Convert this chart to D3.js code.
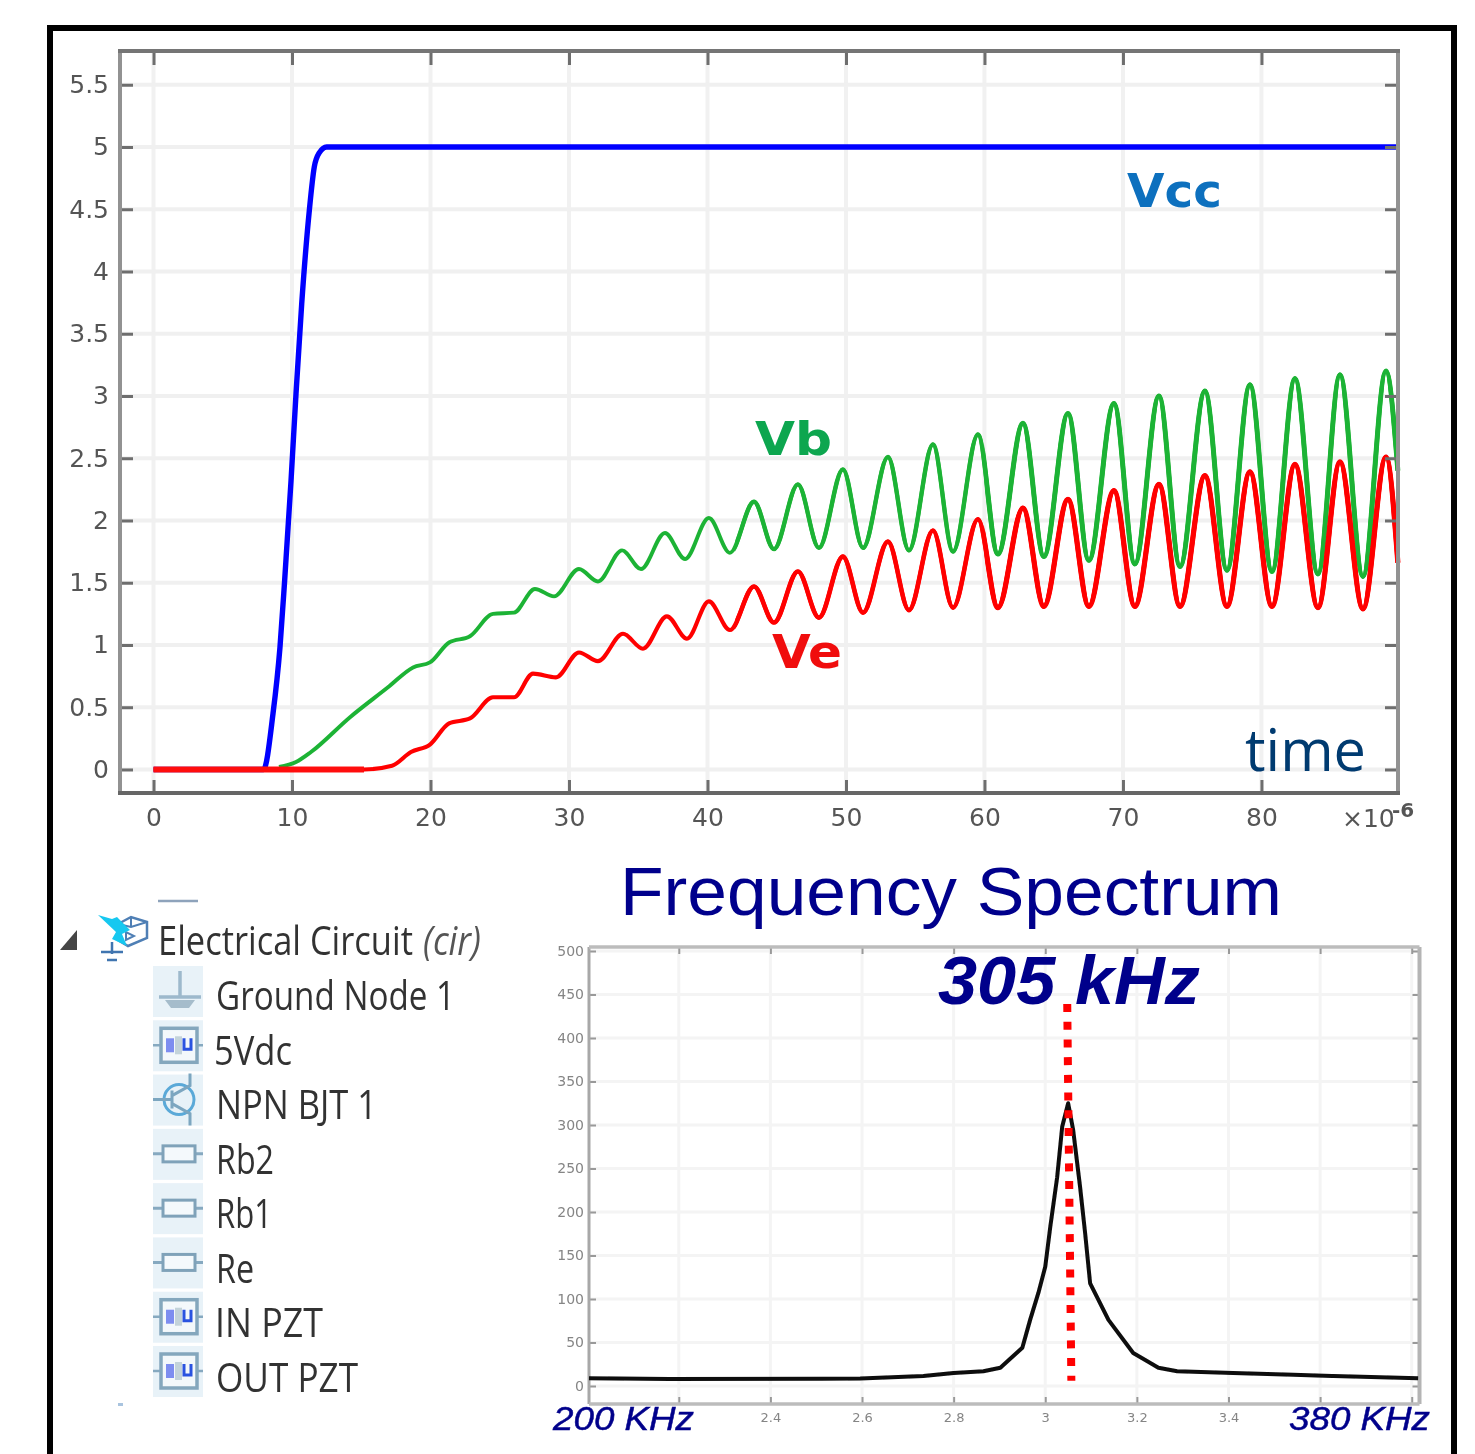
<!DOCTYPE html>
<html>
<head>
<meta charset="utf-8">
<script src="https://cdn.jsdelivr.net/npm/d3@7/dist/d3.min.js"></script>
<style>
html,body{margin:0;padding:0;background:#fff;overflow:hidden}
svg{display:block}
text{font-family:"Liberation Sans",sans-serif}
</style>
</head>
<body>
<svg id="chart" width="1475" height="1454"></svg>
<script>
// ---------- time-domain data (t in units of 1e-6, volts) ----------
const timeTicks = [0,10,20,30,40,50,60,70,80];
const voltTicks = [0,0.5,1,1.5,2,2.5,3,3.5,4,4.5,5,5.5];
const vccT = [0,7.94,8.63,9.13,9.47,9.93,10.29,10.70,11.25,11.61,11.95,12.5,89.86];
const vccV = [0,0,0.45,0.98,1.52,2.32,3.02,3.74,4.49,4.84,4.95,5,5];
const vbT = [9.06,10.29,11.37,14.19,16.93,18.74,19.96,21.34,22.85,24.51,26.03,27.54,28.92,30.72,32.09,33.83,35.2,36.93,38.38,40.1,41.62,43.36,44.80,46.53,48.05,49.78,51.23,53.03,54.55,56.28,57.73,59.53,60.97,62.78,64.29,66.03,67.54,69.35,70.86,72.6,74.12,75.92,77.51,79.17,80.76,82.42,84.08,85.67,87.33,88.99,89.85];
const vbV = [0.02,0.06,0.14,0.42,0.66,0.82,0.86,1.02,1.07,1.25,1.26,1.45,1.39,1.61,1.51,1.76,1.61,1.90,1.69,2.02,1.74,2.15,1.77,2.29,1.78,2.41,1.78,2.51,1.76,2.61,1.75,2.69,1.73,2.78,1.71,2.86,1.68,2.94,1.65,3.00,1.63,3.04,1.60,3.09,1.59,3.14,1.57,3.17,1.55,3.20,2.4];
const veT = [0,15.2,17.22,18.59,19.96,21.34,22.85,24.51,26.03,27.4,29.06,30.72,32.09,33.9,35.34,37.07,38.52,40.1,41.62,43.36,44.80,46.53,48.05,49.78,51.23,53.03,54.55,56.28,57.73,59.53,60.97,62.78,64.29,66.03,67.54,69.35,70.86,72.6,74.12,75.92,77.51,79.17,80.76,82.42,84.08,85.67,87.33,88.99,89.85];
const veV = [0,0,0.03,0.14,0.2,0.37,0.41,0.58,0.58,0.77,0.74,0.94,0.87,1.09,0.97,1.23,1.05,1.35,1.12,1.47,1.18,1.59,1.22,1.71,1.26,1.83,1.28,1.92,1.30,2.01,1.30,2.10,1.31,2.17,1.31,2.24,1.31,2.29,1.31,2.36,1.31,2.39,1.31,2.45,1.30,2.47,1.29,2.51,1.66];

// ---------- spectrum data (frequency in 1e5 Hz, amplitude) ----------
const freqTicks = [2.2,2.4,2.6,2.8,3,3.2,3.4,3.6,3.8];
const freqLabelled = [2.4,2.6,2.8,3,3.2,3.4];
const ampTicks = [0,50,100,150,200,250,300,350,400,450,500];
const specF = [2.004,2.18,2.596,2.734,2.80,2.865,2.902,2.95,2.967,2.985,3.0,3.011,3.026,3.037,3.05,3.061,3.076,3.087,3.098,3.138,3.192,3.247,3.288,3.41,3.541,3.629,3.814];
const specA = [9,8,8.5,11.5,15,17,21,44,76,107,137,183,240,298,325,294,229,176,118,76,38,21,17,15,13,11.5,9];
const markerF = [3.048,3.057];
const markerA = [439,6];

// ---------- tree list ----------
const treeNames = ["Ground Node 1","5Vdc","NPN BJT 1","Rb2","Rb1","Re","IN PZT","OUT PZT"];
const treeKinds = ["ground","source","npn","res","res","res","source","source"];

// ---------- layout ----------
const svg = d3.select("#chart");
const defs = svg.append("defs");
defs.append("filter").attr("id","soft").attr("filterUnits","userSpaceOnUse")
  .attr("x",0).attr("y",0).attr("width",1475).attr("height",1454)
  .append("feGaussianBlur").attr("stdDeviation",0.7);

svg.append("rect").attr("x",50).attr("y",28).attr("width",1404).attr("height",1500)
  .attr("fill","#fff").attr("stroke","#000").attr("stroke-width",6);

const root = svg.append("g").attr("filter","url(#soft)");

function styleAxis(sel, color, w){
  sel.select(".domain").remove();
  sel.selectAll(".tick line").attr("stroke",color).attr("stroke-width",w);
}

// ---------- upper chart ----------
const L={x0:120,x1:1398,y0:51,y1:793};
const x = d3.scaleLinear().domain([-2.42,89.86]).range([L.x0,L.x1]);
const y = d3.scaleLinear().domain([-0.189,5.771]).range([L.y1,L.y0]);
const upper = root.append("g");

upper.append("g").selectAll("line").data(timeTicks).join("line")
  .attr("x1",d=>x(d)).attr("x2",d=>x(d)).attr("y1",L.y0).attr("y2",L.y1)
  .attr("stroke","#f1f1f1").attr("stroke-width",4);
upper.append("g").selectAll("line").data(voltTicks).join("line")
  .attr("y1",d=>y(d)).attr("y2",d=>y(d)).attr("x1",L.x0).attr("x2",L.x1)
  .attr("stroke","#f0f0f0").attr("stroke-width",4);

// the traces get heavier towards the right: the same path is redrawn, clipped
const heavyBands=[{id:"bandA",from:42,width:0.5},{id:"bandB",from:60,width:1.1}];
heavyBands.forEach(b=>{
  defs.append("clipPath").attr("id",b.id).append("rect")
    .attr("x",x(b.from)).attr("y",L.y0).attr("width",L.x1+4-x(b.from)).attr("height",L.y1-L.y0);
});
function curve(T,V,color,w,heavy){
  const d = d3.line().x((d,i)=>x(T[i])).y((d,i)=>y(V[i])).curve(d3.curveMonotoneX)(T);
  upper.append("path").attr("d",d).attr("fill","none").attr("stroke",color)
    .attr("stroke-width",w).attr("stroke-linejoin","round");
  if(heavy) heavyBands.forEach(b=>{
    upper.append("path").attr("d",d).attr("fill","none").attr("stroke",color)
      .attr("stroke-width",w+b.width).attr("stroke-linejoin","round")
      .attr("clip-path",`url(#${b.id})`);
  });
}
curve(vccT,vccV,"#0000ff",5.4,false);
curve(vbT,vbV,"#1fb336",3.9,true);
curve(veT,veV,"#ff0000",4.1,true);
// thicker baseline portion of the Ve trace
upper.append("path").attr("d",d3.line().x(d=>x(d)).y(y(0))(veT.slice(0,2)))
  .attr("fill","none").attr("stroke","#ff1010").attr("stroke-width",6);

const upperFont={family:"'DejaVu Sans',sans-serif",size:25,color:"#555"};
function labelStyle(g,f){g.selectAll(".tick text").attr("font-family",f.family).style("font-family",f.family).attr("font-size",f.size).attr("fill",f.color);}

const axL=upper.append("g").attr("transform",`translate(${L.x0},0)`)
  .call(d3.axisLeft(y).tickValues(voltTicks).tickFormat(d=>String(d)).tickSize(-13).tickPadding(11));
styleAxis(axL,"#6e6e6e",3); labelStyle(axL,upperFont);
const axR=upper.append("g").attr("transform",`translate(${L.x1},0)`)
  .call(d3.axisRight(y).tickValues(voltTicks).tickFormat("").tickSize(-13));
styleAxis(axR,"#6e6e6e",3);
const axT=upper.append("g").attr("transform",`translate(0,${L.y0})`)
  .call(d3.axisTop(x).tickValues(timeTicks).tickFormat("").tickSize(-14));
styleAxis(axT,"#6e6e6e",3);
const axB=upper.append("g").attr("transform",`translate(0,${L.y1})`)
  .call(d3.axisBottom(x).tickValues(timeTicks).tickFormat(d=>String(d)).tickSize(-13).tickPadding(2));
styleAxis(axB,"#6e6e6e",3); labelStyle(axB,upperFont);
axB.selectAll(".tick text").attr("y",15).attr("dy","0.71em");

upper.append("path").attr("d",`M${L.x0},${L.y1}V${L.y0}`).attr("stroke","#929292").attr("stroke-width",4).attr("fill","none");
upper.append("path").attr("d",`M${L.x1},${L.y1}V${L.y0}`).attr("stroke","#929292").attr("stroke-width",4).attr("fill","none");
upper.append("path").attr("d",`M${L.x0-2},${L.y0}H${L.x1+2}`).attr("stroke","#757575").attr("stroke-width",4).attr("fill","none");
upper.append("path").attr("d",`M${L.x0-2},${L.y1}H${L.x1+2}`).attr("stroke","#666").attr("stroke-width",4).attr("fill","none");

upper.append("text").attr("x",1342).attr("y",827).attr("font-size",25).style("font-family",upperFont.family).attr("fill",upperFont.color).text("×10");
upper.append("text").attr("x",1392).attr("y",817).attr("font-size",20).attr("font-weight","bold").style("font-family",upperFont.family).attr("fill",upperFont.color).text("-6");

function label(t,xp,yp,w,size,color,opts={}){
  return root.append("text").attr("x",xp).attr("y",yp).attr("font-size",size).attr("fill",color)
    .attr("textLength",w).attr("lengthAdjust","spacingAndGlyphs")
    .style("font-family",opts.family||"'Liberation Sans',sans-serif")
    .attr("font-weight",opts.weight||"normal").attr("font-style",opts.style||"normal").text(t);
}
label("Vcc",1127,207,95,46,"#0a6fbe",{family:"'DejaVu Sans',sans-serif",weight:"bold"});
label("Vb",755,455,77,46,"#0aa650",{family:"'DejaVu Sans',sans-serif",weight:"bold"});
label("Ve",772,668,70,46,"#f01010",{family:"'DejaVu Sans',sans-serif",weight:"bold"});
label("time",1245,771,121,58,"#053a70",{family:"'Open Sans',sans-serif"});

// ---------- spectrum chart ----------
const S={x0:589,x1:1419.5,y0:947,y1:1404};
const fx = d3.scaleLinear().domain([2.004,3.817]).range([S.x0,S.x1]);
const fy = d3.scaleLinear().domain([-20.7,504.6]).range([S.y1,S.y0]);
const spec = root.append("g");

spec.append("g").selectAll("line").data(freqTicks).join("line")
  .attr("x1",d=>fx(d)).attr("x2",d=>fx(d)).attr("y1",S.y0).attr("y2",S.y1)
  .attr("stroke","#f4f4f4").attr("stroke-width",3);
spec.append("g").selectAll("line").data(ampTicks).join("line")
  .attr("y1",d=>fy(d)).attr("y2",d=>fy(d)).attr("x1",S.x0).attr("x2",S.x1)
  .attr("stroke","#f4f4f4").attr("stroke-width",3);

const specFont={family:"'DejaVu Sans',sans-serif",size:13,color:"#858585"};
const sL=spec.append("g").attr("transform",`translate(${S.x0},0)`)
  .call(d3.axisLeft(fy).tickValues(ampTicks).tickFormat(d=>String(d)).tickSize(-7).tickPadding(5));
styleAxis(sL,"#999",2); labelStyle(sL,{...specFont,size:14});
const sR=spec.append("g").attr("transform",`translate(${S.x1},0)`)
  .call(d3.axisRight(fy).tickValues(ampTicks).tickFormat("").tickSize(-7));
styleAxis(sR,"#999",2);
const sT=spec.append("g").attr("transform",`translate(0,${S.y0})`)
  .call(d3.axisTop(fx).tickValues(freqTicks).tickFormat("").tickSize(-7));
styleAxis(sT,"#999",2);
const sB=spec.append("g").attr("transform",`translate(0,${S.y1})`)
  .call(d3.axisBottom(fx).tickValues(freqTicks)
    .tickFormat(d=>freqLabelled.includes(d)?String(d):"").tickSize(-7));
styleAxis(sB,"#999",2); labelStyle(sB,specFont);
sB.selectAll(".tick text").attr("y",9).attr("dy","0.71em");

spec.append("path").attr("d",`M${S.x0},${S.y1}V${S.y0}`).attr("stroke","#a8a8a8").attr("stroke-width",3).attr("fill","none");
spec.append("path").attr("d",`M${S.x1},${S.y1}V${S.y0}`).attr("stroke","#b4b4b4").attr("stroke-width",4).attr("fill","none");
spec.append("path").attr("d",`M${S.x0},${S.y0}H${S.x1}`).attr("stroke","#bcbcbc").attr("stroke-width",3.5).attr("fill","none");
spec.append("path").attr("d",`M${S.x0},${S.y1}H${S.x1}`).attr("stroke","#bcbcbc").attr("stroke-width",3.5).attr("fill","none");

spec.append("path")
  .attr("d",d3.line().x((d,i)=>fx(specF[i])).y((d,i)=>fy(specA[i]))(specF))
  .attr("fill","none").attr("stroke","#0c0c0c").attr("stroke-width",4).attr("stroke-linejoin","round");

spec.append("path")
  .attr("d",d3.line().x((d,i)=>fx(markerF[i])).y((d,i)=>fy(markerA[i]))(markerF))
  .attr("fill","none").attr("stroke","#ff0000").attr("stroke-width",8).attr("stroke-dasharray","8 9.7");

label("Frequency Spectrum",620,915,662,68,"#04048c");
label("305 kHz",938,1004,262,68,"#00008b",{weight:"bold",style:"italic"});
label("200 KHz",553,1430,141,33,"#00008b",{style:"italic"}).attr("stroke","#00008b").attr("stroke-width",0.5);
label("380 KHz",1289,1430,141,33,"#00008b",{style:"italic"}).attr("stroke","#00008b").attr("stroke-width",0.5);

// ---------- model tree ----------
const tree = root.append("g");
const treeFont="'Open Sans',sans-serif";
const rowY = d3.scaleLinear().domain([0,7]).range([1008,1388]);
const textY = d3.scaleLinear().domain([0,7]).range([1010,1392]);
const treeTextX=[216,214,216,216,216,216,215,216];
const treeTextW=[239,78,161,58,56,38,108,142];

tree.append("path").attr("d","M158,901H198").attr("stroke","#8ea3bb").attr("stroke-width",2.5);
tree.append("path").attr("d","M77,930V950H60Z").attr("fill","#444");
tree.append("rect").attr("x",118).attr("y",1403).attr("width",5).attr("height",3).attr("fill","#a9c4df");

// physics-interface icon
tree.append("path").attr("d","M118,924L131,917L147,922V938L128,946L118,940Z").attr("fill","#fff").attr("stroke","#4f7fb5").attr("stroke-width",2.5);
tree.append("path").attr("d","M131,917V927M118,924L131,927L147,922M126,932V940L134,936Z").attr("fill","none").attr("stroke","#4f7fb5").attr("stroke-width",2);
tree.append("path").attr("d","M98,915L112,919L117,917L130,930L122,934L127,946L112,939L116,932Z").attr("fill","#19c8f0");
tree.append("path").attr("d","M112,942V954M101,952H123M107,960H117").attr("stroke","#3f74b0").attr("stroke-width",2.5).attr("fill","none");

// heading parts are narrowed by a measured horizontal scale so their boxes stay apart
function squeezed(t,xp,yp,w,size,color,style){
  const el=root.append("text").attr("font-size",size).attr("fill",color)
    .attr("font-style",style).style("font-family",treeFont).text(t);
  const natural=el.node().getComputedTextLength();
  el.attr("transform",`translate(${xp},${yp}) scale(${w/natural},1)`);
}
squeezed("Electrical Circuit",158,955,255,40,"#333","normal");
squeezed("(cir)",423,955,58,40,"#555","italic");

const iconDraw={
  ground(g){
    g.append("path").attr("d","M2,-20V6M-19,6H23").attr("stroke","#9db9cc").attr("stroke-width",3.5).attr("fill","none");
    g.append("path").attr("d","M-13,9H17L11,17H-7Z").attr("fill","#a5bccb");
  },
  source(g){
    g.append("path").attr("d","M-25,0H-18M19,0H25").attr("stroke","#86a9c0").attr("stroke-width",2.5);
    g.append("rect").attr("x",-17).attr("y",-17).attr("width",36).attr("height",34).attr("fill","#f3f8fb").attr("stroke","#84a7bd").attr("stroke-width",3.5);
    g.append("rect").attr("x",-12).attr("y",-7).attr("width",8).attr("height",14).attr("fill","#7d8df0");
    g.append("rect").attr("x",-3).attr("y",-9).attr("width",7).attr("height",18).attr("fill","#c3d3da");
    g.append("path").attr("d","M6,-7V4H13V-7").attr("stroke","#2c52e0").attr("stroke-width",3).attr("fill","none");
  },
  npn(g){
    g.append("circle").attr("cx",1).attr("cy",0).attr("r",15).attr("fill","none").attr("stroke","#5aa9d8").attr("stroke-width",3);
    g.append("path").attr("d","M-25,0H-6M-6,-9V9M-6,-4L12,-14V-26M-6,4L12,14V26").attr("stroke","#7ba6c0").attr("stroke-width",3).attr("fill","none");
  },
  res(g){
    g.append("path").attr("d","M-25,0H-15M17,0H25").attr("stroke","#86a9c0").attr("stroke-width",3);
    g.append("rect").attr("x",-15).attr("y",-8).attr("width",32).attr("height",16).attr("fill","#f4f9fc").attr("stroke","#7fa2b9").attr("stroke-width",3);
  }
};
treeNames.forEach((name,i)=>{
  const by=rowY(i);
  tree.append("rect").attr("x",153).attr("y",by-42).attr("width",50).attr("height",51).attr("fill","#e8f2f8");
  const g=tree.append("g").attr("transform",`translate(178,${by-17})`);
  iconDraw[treeKinds[i]](g);
  label(name,treeTextX[i],textY(i),treeTextW[i],40,"#333",{family:treeFont});
});
</script>
</body>
</html>
